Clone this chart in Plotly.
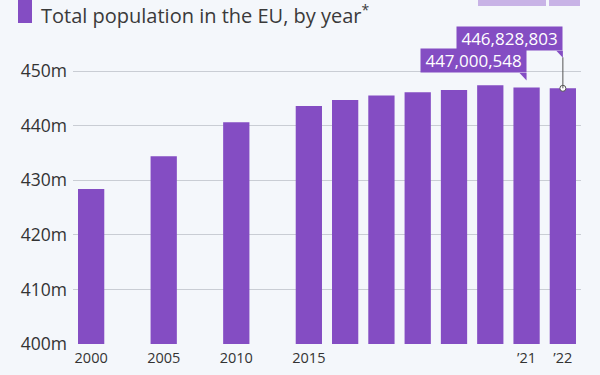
import plotly.graph_objects as go

# ---- data ----
years = ["2000", "2005", "2010", "2015", "2016", "2017", "2018", "2019", "2020", "2021", "2022"]
population_m = [428.4, 434.4, 440.6, 443.6, 444.7, 445.5, 446.1, 446.5, 447.4, 447.0, 446.83]
tick_labels = ["2000", "2005", "2010", "2015", "", "", "", "", "", "\u201921", "\u201922"]
callout_2021 = "447,000,548"
callout_2022 = "446,828,803"
y_ticks = [400, 410, 420, 430, 440, 450]
y_tick_labels = ["400m", "410m", "420m", "430m", "440m", "450m"]

PURPLE = "#844dc3"
LIGHT_PURPLE = "#c8b3e6"
BG = "#f4f7fb"
GRID = "#c9cdd4"
TEXT = "#333333"
LEADER = "#555555"
FONT = "Open Sans"

W, H = 600, 375
L, R, T, B = 73, 19, 27, 31
Y_RANGE = [400, 458.06]   # headroom above 450m for the callouts

# slot positions: one empty spacer slot where years are not consecutive
slot_pos = []
pos = 0
for i, yr in enumerate(years):
    if i > 0:
        pos += 2 if int(yr) - int(years[i - 1]) > 1 else 1
    slot_pos.append(pos)

fig = go.Figure()
fig.add_trace(go.Bar(x=slot_pos, y=population_m, width=0.724,
                     marker=dict(color=PURPLE, line=dict(width=0)), hoverinfo="skip"))

pw = W - L - R
ph = H - T - B
def px_x(p):
    return (p - L) / pw
def px_y(p):
    return (H - B - p) / ph

shapes = []
annotations = []

def nb(s):
    return "\u00a0" + s + "\u00a0"

# 2022 callout: box + tail + leader line down to bar top
x22, v22 = slot_pos[-1], population_m[-1]
shapes.append(dict(type="line", xref="x", yref="y", ysizemode="pixel", yanchor=v22,
                   x0=x22, x1=x22, y0=0, y1=31, line=dict(color=LEADER, width=1)))
shapes.append(dict(type="path", xref="x", yref="y", xsizemode="pixel", ysizemode="pixel",
                   xanchor=x22, yanchor=v22, path="M -6.5,37.5 L 0,37.5 L 0,30.5 Z",
                   fillcolor=PURPLE, line=dict(width=0)))
annotations.append(dict(x=x22, y=v22, xref="x", yref="y", text=nb(callout_2022),
                        showarrow=False, xanchor="right", yanchor="bottom", yshift=37,
                        bgcolor=PURPLE, borderpad=0, font=dict(family=FONT, size=17, color="white")))

# 2021 callout: box + tail
x21, v21 = slot_pos[-2], population_m[-2]
shapes.append(dict(type="path", xref="x", yref="y", xsizemode="pixel", ysizemode="pixel",
                   xanchor=x21, yanchor=v21, path="M -7,14.5 L 0,14.5 L 0,7 Z",
                   fillcolor=PURPLE, line=dict(width=0)))
annotations.append(dict(x=x21, y=v21, xref="x", yref="y", text=nb(callout_2021),
                        showarrow=False, xanchor="right", yanchor="bottom", yshift=14,
                        bgcolor=PURPLE, borderpad=0, font=dict(family=FONT, size=17, color="white")))

# marker dot on the 2022 bar
fig.add_trace(go.Scatter(x=[x22], y=[v22], mode="markers",
                         marker=dict(size=6, color="white", line=dict(color=LEADER, width=1)),
                         hoverinfo="skip", cliponaxis=False))

# title marker bar and top-right decorations
shapes.append(dict(type="rect", xref="paper", yref="paper", x0=px_x(18), x1=px_x(32), y0=px_y(23), y1=px_y(-2),
                   fillcolor=PURPLE, line=dict(width=0)))
shapes.append(dict(type="rect", xref="paper", yref="paper", x0=px_x(478), x1=px_x(546), y0=px_y(6), y1=px_y(-2),
                   fillcolor=LIGHT_PURPLE, line=dict(width=0)))
shapes.append(dict(type="rect", xref="paper", yref="paper", x0=px_x(549), x1=px_x(580), y0=px_y(6), y1=px_y(-2),
                   fillcolor=LIGHT_PURPLE, line=dict(width=0)))

fig.update_layout(
    width=W, height=H,
    margin=dict(l=L, r=R, t=T, b=B, pad=0, autoexpand=False),
    paper_bgcolor=BG, plot_bgcolor=BG,
    showlegend=False,
    hovermode=False,
    font=dict(family=FONT, color=TEXT),
    title=dict(text="Total population in the EU, by year<sup>*</sup>", xref="container", yref="container",
               x=41 / W, xanchor="left", y=1 - 9 / H, yanchor="top",
               font=dict(family=FONT, size=20, color="#3a3a3a")),
    shapes=shapes,
    annotations=annotations,
    xaxis=dict(range=[slot_pos[0] - 0.5, slot_pos[-1] + 0.5],
               tickmode="array", tickvals=slot_pos, ticktext=tick_labels, tickangle=0,
               showgrid=False, showline=False, zeroline=False, ticks="", automargin=False,
               ticklabelstandoff=3,
               tickfont=dict(family=FONT, size=14.5, color=TEXT), fixedrange=True),
    yaxis=dict(range=Y_RANGE, tickmode="array", tickvals=y_ticks, ticktext=y_tick_labels,
               showgrid=True, gridcolor=GRID, gridwidth=1, zeroline=False, showline=False,
               ticks="", ticklabelstandoff=5, automargin=False,
               tickfont=dict(family=FONT, size=17.5, color=TEXT), fixedrange=True),
)

fig.write_html("out.html",
               config={"displayModeBar": False, "staticPlot": True},
               post_script="document.body.style.margin='0';document.body.style.background='" + BG + "';")
